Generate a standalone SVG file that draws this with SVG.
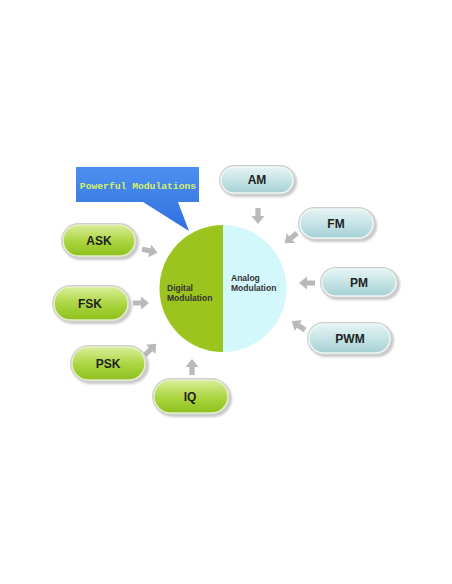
<svg xmlns="http://www.w3.org/2000/svg" width="452" height="584" viewBox="0 0 452 584">
<style>
.lbl{font-family:"Liberation Sans",Arial,sans-serif;font-weight:bold;font-size:12px;fill:#222;text-anchor:middle}
.ctext{font-family:"Liberation Sans",Arial,sans-serif;font-weight:bold;font-size:8.5px;fill:#333}
.arr{fill:#b9b9b9}
.shadow{fill:#9a9a9a;opacity:0.55}
.g{fill:url(#gg);stroke:#e4efc8;stroke-width:1.5}
.c{fill:url(#cg);stroke:#eef6f6;stroke-width:1.5}
.rim{fill:#cfcfcf}
</style>
<defs>
<linearGradient id="gg" x1="0" y1="0" x2="0" y2="1">
<stop offset="0" stop-color="#d9ee98"/>
<stop offset="0.55" stop-color="#a9d43e"/>
<stop offset="1" stop-color="#8dc01c"/>
</linearGradient>
<linearGradient id="cg" x1="0" y1="0" x2="0" y2="1">
<stop offset="0" stop-color="#e6f4f4"/>
<stop offset="0.55" stop-color="#c2e2e4"/>
<stop offset="1" stop-color="#a5d0d4"/>
</linearGradient>
<linearGradient id="bg" x1="0" y1="0" x2="0" y2="1">
<stop offset="0" stop-color="#4d8ff0"/>
<stop offset="1" stop-color="#2f6fdc"/>
</linearGradient>
<filter id="blur" x="-20%" y="-20%" width="140%" height="140%"><feGaussianBlur stdDeviation="1.2"/></filter>
<path id="ar" d="M0,-2.6 L8,-2.6 L8,-6.5 L16,0 L8,6.5 L8,2.6 L0,2.6 Z"/>
</defs>
<rect width="452" height="584" fill="#ffffff"/>

<g id="callout">
<path d="M76,167 H199 V202 H178 L189,231 L143,202 H76 Z" fill="url(#bg)"/>
<text x="138" y="189" font-family="'Liberation Mono','Courier New',monospace" font-weight="bold" font-size="9.7" fill="#d8f068" text-anchor="middle">Powerful Modulations</text>
</g>

<g id="center">
<path d="M223,225 A63.5,63.5 0 0 0 223,352 Z" fill="#9cc41e"/>
<path d="M223,225 A63.5,63.5 0 0 1 223,352 Z" fill="#d3f8fb"/>
<text class="ctext" x="167" y="291">Digital</text>
<text class="ctext" x="167" y="301">Modulation</text>
<text class="ctext" x="231" y="281">Analog</text>
<text class="ctext" x="231" y="291">Modulation</text>
</g>

<g id="connectors">
<use href="#ar" class="arr" transform="translate(258,208) rotate(90)"/>
<use href="#ar" class="arr" transform="translate(297,233) rotate(140)"/>
<use href="#ar" class="arr" transform="translate(315,283) rotate(180)"/>
<use href="#ar" class="arr" transform="translate(305,330) rotate(214)"/>
<use href="#ar" class="arr" transform="translate(142,249) rotate(14)"/>
<use href="#ar" class="arr" transform="translate(133,303) rotate(0)"/>
<use href="#ar" class="arr" transform="translate(145,355) rotate(-45)"/>
<use href="#ar" class="arr" transform="translate(192,375) rotate(-90)"/>
</g>

<g id="AM">
<rect class="shadow" x="221" y="167" width="76" height="30" rx="15" filter="url(#blur)"/>
<rect class="rim" x="219" y="165" width="76" height="30" rx="15"/>
<rect class="c" x="221" y="167" width="72" height="26" rx="13"/>
<text class="lbl" x="257" y="184">AM</text>
</g>
<g id="FM">
<rect class="shadow" x="300" y="209" width="77" height="33" rx="16.5" filter="url(#blur)"/>
<rect class="rim" x="298" y="207" width="77" height="33" rx="16.5"/>
<rect class="c" x="300" y="209" width="73" height="29" rx="14.5"/>
<text class="lbl" x="336" y="228">FM</text>
</g>
<g id="PM">
<rect class="shadow" x="322" y="269" width="78" height="31" rx="15.5" filter="url(#blur)"/>
<rect class="rim" x="320" y="267" width="78" height="31" rx="15.5"/>
<rect class="c" x="322" y="269" width="74" height="27" rx="13.5"/>
<text class="lbl" x="359" y="287">PM</text>
</g>
<g id="PWM">
<rect class="shadow" x="309" y="324" width="85" height="33" rx="16.5" filter="url(#blur)"/>
<rect class="rim" x="307" y="322" width="85" height="33" rx="16.5"/>
<rect class="c" x="309" y="324" width="81" height="29" rx="14.5"/>
<text class="lbl" x="350" y="343">PWM</text>
</g>

<g id="ASK">
<rect class="shadow" x="63" y="225" width="76" height="35" rx="17.5" filter="url(#blur)"/>
<rect class="rim" x="61" y="223" width="76" height="35" rx="17.5"/>
<rect class="g" x="63" y="225" width="72" height="31" rx="15.5"/>
<text class="lbl" x="99" y="245">ASK</text>
</g>
<g id="FSK">
<rect class="shadow" x="54" y="287" width="78" height="37" rx="18.5" filter="url(#blur)"/>
<rect class="rim" x="52" y="285" width="78" height="37" rx="18.5"/>
<rect class="g" x="54" y="287" width="74" height="33" rx="16.5"/>
<text class="lbl" x="90" y="308">FSK</text>
</g>
<g id="PSK">
<rect class="shadow" x="72" y="347" width="77" height="37" rx="18.5" filter="url(#blur)"/>
<rect class="rim" x="70" y="345" width="77" height="37" rx="18.5"/>
<rect class="g" x="72" y="347" width="73" height="33" rx="16.5"/>
<text class="lbl" x="108" y="368">PSK</text>
</g>
<g id="IQ">
<rect class="shadow" x="154" y="380" width="78" height="37" rx="18.5" filter="url(#blur)"/>
<rect class="rim" x="152" y="378" width="78" height="37" rx="18.5"/>
<rect class="g" x="154" y="380" width="74" height="33" rx="16.5"/>
<text class="lbl" x="190" y="401">IQ</text>
</g>
</svg>
